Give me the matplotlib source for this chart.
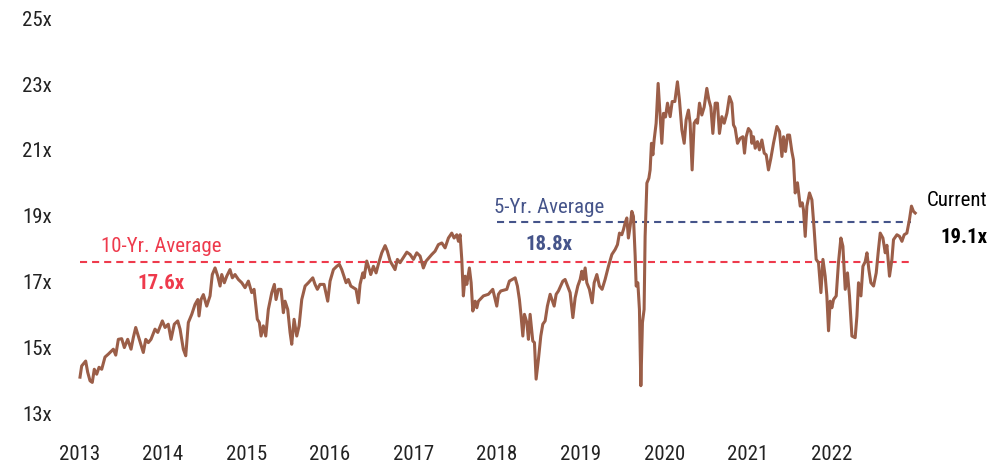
import matplotlib
matplotlib.use("Agg")
import matplotlib.pyplot as plt
from matplotlib import font_manager

# forward P/E (decimal year, multiple)
dates = [
    2013.006, 2013.026, 2013.074, 2013.098, 2013.126, 2013.153, 2013.177, 2013.206,
    2013.234, 2013.266, 2013.305, 2013.345, 2013.405, 2013.434, 2013.465, 2013.505,
    2013.537, 2013.577, 2013.617, 2013.644, 2013.673, 2013.704, 2013.764, 2013.793,
    2013.824, 2013.856, 2013.904, 2013.937, 2013.992, 2014.024, 2014.063, 2014.096,
    2014.135, 2014.176, 2014.204, 2014.243, 2014.272, 2014.303, 2014.344, 2014.383,
    2014.416, 2014.431, 2014.455, 2014.483, 2014.523, 2014.563, 2014.590, 2014.623,
    2014.655, 2014.683, 2014.703, 2014.734, 2014.763, 2014.802, 2014.830, 2014.862,
    2014.902, 2014.943, 2014.982, 2015.022, 2015.062, 2015.090, 2015.129, 2015.153,
    2015.174, 2015.201, 2015.230, 2015.261, 2015.302, 2015.333, 2015.353, 2015.381,
    2015.413, 2015.441, 2015.461, 2015.493, 2015.521, 2015.541, 2015.569, 2015.601,
    2015.629, 2015.661, 2015.701, 2015.740, 2015.793, 2015.820, 2015.848, 2015.880,
    2015.928, 2015.972, 2016.000, 2016.040, 2016.080, 2016.111, 2016.140, 2016.192,
    2016.219, 2016.248, 2016.311, 2016.339, 2016.359, 2016.392, 2016.407, 2016.439,
    2016.471, 2016.487, 2016.519, 2016.551, 2016.578, 2016.619, 2016.659, 2016.686,
    2016.719, 2016.778, 2016.806, 2016.838, 2016.919, 2016.958, 2016.998, 2017.038,
    2017.078, 2017.117, 2017.150, 2017.218, 2017.257, 2017.297, 2017.338, 2017.377,
    2017.417, 2017.457, 2017.485, 2017.517, 2017.537, 2017.557, 2017.577, 2017.596,
    2017.617, 2017.637, 2017.668, 2017.689, 2017.709, 2017.737, 2017.757, 2017.776,
    2017.836, 2017.896, 2017.948, 2017.996, 2018.016, 2018.044, 2018.116, 2018.147,
    2018.216, 2018.243, 2018.267, 2018.287, 2018.308, 2018.327, 2018.356, 2018.375,
    2018.395, 2018.427, 2018.447, 2018.467, 2018.495, 2018.523, 2018.547, 2018.575,
    2018.602, 2018.635, 2018.683, 2018.707, 2018.734, 2018.787, 2018.814, 2018.874,
    2018.907, 2018.934, 2018.966, 2018.994, 2019.014, 2019.030, 2019.054, 2019.074,
    2019.105, 2019.138, 2019.162, 2019.194, 2019.225, 2019.257, 2019.293, 2019.333,
    2019.374, 2019.413, 2019.441, 2019.465, 2019.493, 2019.513, 2019.533, 2019.553,
    2019.572, 2019.593, 2019.613, 2019.632, 2019.653, 2019.665, 2019.685, 2019.704,
    2019.721, 2019.740, 2019.760, 2019.772, 2019.793, 2019.817, 2019.832, 2019.848,
    2019.865, 2019.880, 2019.904, 2019.928, 2019.952, 2019.972, 2019.992, 2020.016,
    2020.040, 2020.072, 2020.096, 2020.128, 2020.159, 2020.183, 2020.212, 2020.240,
    2020.263, 2020.291, 2020.311, 2020.335, 2020.359, 2020.383, 2020.399, 2020.423,
    2020.451, 2020.479, 2020.511, 2020.535, 2020.559, 2020.583, 2020.611, 2020.638,
    2020.662, 2020.691, 2020.719, 2020.751, 2020.782, 2020.811, 2020.830, 2020.850,
    2020.878, 2020.910, 2020.942, 2020.962, 2020.982, 2021.009, 2021.038, 2021.050,
    2021.069, 2021.090, 2021.117, 2021.141, 2021.170, 2021.198, 2021.222, 2021.249,
    2021.278, 2021.309, 2021.350, 2021.381, 2021.410, 2021.429, 2021.453, 2021.477,
    2021.501, 2021.529, 2021.548, 2021.569, 2021.596, 2021.629, 2021.653, 2021.668,
    2021.689, 2021.709, 2021.740, 2021.769, 2021.796, 2021.820, 2021.848, 2021.877,
    2021.901, 2021.928, 2021.948, 2021.968, 2021.988, 2022.008, 2022.028, 2022.060,
    2022.087, 2022.116, 2022.140, 2022.168, 2022.195, 2022.219, 2022.248, 2022.287,
    2022.308, 2022.327, 2022.356, 2022.380, 2022.407, 2022.428, 2022.451, 2022.475,
    2022.507, 2022.539, 2022.566, 2022.587, 2022.619, 2022.647, 2022.667, 2022.698,
    2022.727, 2022.746, 2022.787, 2022.818, 2022.847, 2022.874, 2022.906, 2022.937,
    2022.961, 2022.985, 2023.006,
]
pe = [
    14.09, 14.43, 14.58, 14.24, 13.98, 13.93, 14.33, 14.18,
    14.39, 14.33, 14.70, 14.79, 14.94, 14.76, 15.24, 15.26,
    14.99, 15.24, 14.94, 15.29, 15.60, 15.34, 14.84, 15.24,
    15.14, 15.24, 15.55, 15.45, 15.80, 15.60, 15.70, 15.24,
    15.70, 15.80, 15.55, 14.94, 14.74, 15.75, 16.00, 16.30,
    16.45, 15.95, 16.45, 16.60, 16.25, 16.56, 17.21, 17.41,
    17.16, 16.86, 17.21, 16.96, 17.16, 17.36, 17.11, 17.21,
    17.06, 16.96, 16.81, 17.01, 16.66, 16.76, 15.85, 15.75,
    15.34, 15.65, 15.34, 16.15, 16.66, 16.91, 16.45, 16.76,
    16.76, 16.05, 16.40, 16.15, 15.45, 15.09, 15.85, 15.34,
    15.65, 16.45, 16.86, 16.96, 17.11, 16.91, 16.76, 16.91,
    16.91, 16.40, 17.01, 17.36, 17.46, 17.52, 17.36, 16.96,
    17.06, 16.86, 16.76, 16.35, 16.91, 17.26, 17.11, 17.62,
    17.36, 17.21, 17.46, 17.26, 17.52, 17.87, 18.09, 17.92,
    17.62, 17.36, 17.67, 17.57, 17.89, 17.82, 17.67, 17.87,
    17.77, 17.41, 17.62, 17.82, 17.92, 18.12, 18.17, 18.02,
    18.32, 18.47, 18.32, 18.42, 18.22, 18.42, 17.67, 16.56,
    17.16, 16.91, 17.41, 16.96, 16.10, 16.40, 16.20, 16.40,
    16.56, 16.61, 16.76, 16.25, 16.61, 16.71, 16.76, 17.01,
    17.11, 16.86, 16.45, 15.95, 15.34, 16.00, 15.75, 15.24,
    16.00, 15.19, 15.14, 14.03, 14.64, 15.34, 15.70, 15.80,
    16.25, 16.61, 16.25, 16.61, 16.71, 17.01, 17.06, 16.66,
    15.90, 16.50, 16.86, 17.06, 17.31, 17.06, 17.41, 16.96,
    16.76, 16.35, 16.96, 17.21, 16.86, 16.76, 17.06, 17.46,
    17.82, 17.97, 18.12, 18.47, 18.42, 18.58, 18.78, 18.93,
    18.32, 18.68, 19.13, 18.98, 17.77, 16.86, 16.96, 16.15,
    13.83, 15.75, 16.15, 18.37, 19.99, 20.14, 20.39, 21.20,
    20.85, 21.30, 21.81, 23.02, 22.01, 21.20, 22.11, 22.00,
    22.42, 22.01, 22.47, 22.47, 23.07, 22.52, 21.61, 21.20,
    21.91, 22.21, 21.81, 20.39, 21.81, 21.91, 21.81, 22.42,
    22.06, 22.30, 22.87, 22.52, 22.30, 21.50, 22.42, 22.42,
    21.50, 22.01, 21.81, 22.11, 22.62, 22.42, 21.76, 21.66,
    21.20, 21.35, 21.40, 20.90, 21.40, 21.65, 21.55, 21.20,
    21.40, 21.05, 21.25, 21.00, 21.30, 20.90, 20.85, 20.39,
    20.75, 21.20, 21.71, 21.56, 20.80, 21.40, 20.95, 21.45,
    21.45, 20.95, 20.70, 19.69, 20.00, 19.29, 19.39, 19.18,
    18.37, 19.29, 19.69, 19.48, 18.58, 17.67, 17.57, 16.66,
    17.67, 17.16, 16.56, 15.50, 16.40, 16.20, 16.45, 16.56,
    17.57, 18.32, 18.07, 16.76, 17.26, 16.56, 15.34, 15.29,
    15.95, 16.96, 16.56, 17.46, 17.60, 17.87, 17.36, 16.96,
    16.86, 17.26, 17.97, 18.47, 18.32, 17.87, 18.10, 17.16,
    17.67, 18.27, 18.42, 18.37, 18.22, 18.42, 18.47, 18.88,
    19.29, 19.13, 19.08,
]

avg_10yr = 17.6
avg_5yr = 18.8
current = 19.1
avg_10yr_start = 2013.0
avg_5yr_start = 2018.0
avg_end = 2022.95

year_ticks = list(range(2013, 2023))
pe_ticks = [13, 15, 17, 19, 21, 23, 25]

LINE = '#9B5E48'
RED = '#EE3A4C'
BLUE = '#45548A'

installed = {f.name for f in font_manager.fontManager.ttflist}
for fam in ['Liberation Sans Narrow', 'Roboto Condensed', 'Roboto']:
    if fam in installed:
        plt.rcParams['font.family'] = [fam, 'DejaVu Sans']
        break

fig = plt.figure(figsize=(10.01, 4.68), dpi=100)
ax = fig.add_axes([0.0619, 0.1175, 0.927, 0.8434])

ax.plot(dates, pe, color=LINE, lw=2.2, zorder=3)
ax.plot([avg_10yr_start, avg_end], [avg_10yr, avg_10yr], color=RED, lw=1.5,
        ls=(0, (3.4, 2.4)), zorder=2)
ax.plot([avg_5yr_start, avg_end], [avg_5yr, avg_5yr], color=BLUE, lw=1.5,
        ls=(0, (3.4, 2.4)), zorder=2)

ax.text(2013.976, 17.90, '10-Yr. Average', color=RED, fontsize=15, ha='center', va='baseline')
ax.text(2013.976, 16.76, f'{avg_10yr:.1f}x', color=RED, fontsize=15, fontweight='bold',
        ha='center', va='baseline')
ax.text(2018.617, 19.08, '5-Yr. Average', color=BLUE, fontsize=15, ha='center', va='baseline')
ax.text(2018.623, 17.95, f'{avg_5yr:.1f}x', color=BLUE, fontsize=15, fontweight='bold',
        ha='center', va='baseline')
ax.text(2023.868, 19.29, 'Current', color='black', fontsize=15, ha='right', va='baseline')
ax.text(2023.868, 18.16, f'{current:.1f}x', color='black', fontsize=15, fontweight='bold',
        ha='right', va='baseline')

ax.set_xlim(2012.79, 2023.9)
ax.set_ylim(13, 25)
ax.set_xticks(year_ticks)
ax.set_xticklabels([str(y) for y in year_ticks])
ax.set_yticks(pe_ticks)
ax.set_yticklabels([f'{v}x' for v in pe_ticks])
ax.tick_params(axis='both', length=0, labelsize=15, colors='#222222')
ax.tick_params(axis='y', pad=7)
ax.tick_params(axis='x', pad=23)
for s in ax.spines.values():
    s.set_visible(False)

fig.savefig('out.png', dpi=100)
